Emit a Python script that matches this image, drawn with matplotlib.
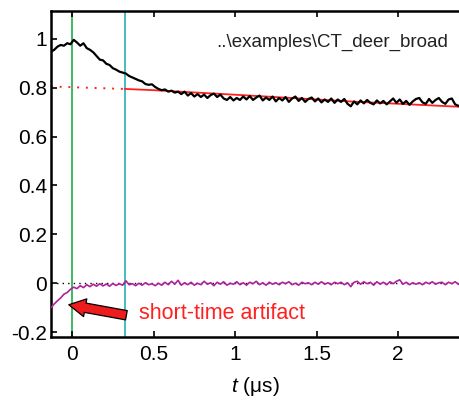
import numpy as np
import matplotlib
matplotlib.use("Agg")
import matplotlib.pyplot as plt

plt.rcParams['font.family'] = ['Liberation Sans', 'DejaVu Sans']
plt.rcParams['mathtext.fontset'] = 'custom'
plt.rcParams['mathtext.it'] = 'Liberation Sans:italic'
plt.rcParams['mathtext.rm'] = 'Liberation Sans'
plt.rcParams['axes.unicode_minus'] = False

# time grid of the traces [us]
t_start = -0.13
t_step = 0.02

# primary data (black)
signal = [0.947, 0.955, 0.968, 0.975, 0.972, 0.982, 0.978, 0.996, 0.985, 0.972,
          0.982, 0.962, 0.955, 0.945, 0.930, 0.915, 0.912, 0.898, 0.893, 0.880,
          0.874, 0.866, 0.862, 0.858, 0.848, 0.842, 0.836, 0.830, 0.826, 0.815,
          0.812, 0.814, 0.803, 0.795, 0.790, 0.793, 0.784, 0.788, 0.780, 0.784,
          0.774, 0.784, 0.768, 0.778, 0.764, 0.774, 0.762, 0.772, 0.758, 0.770,
          0.776, 0.762, 0.772, 0.756, 0.750, 0.762, 0.748, 0.758, 0.750, 0.764,
          0.752, 0.766, 0.750, 0.760, 0.768, 0.748, 0.760, 0.750, 0.764, 0.744,
          0.758, 0.748, 0.762, 0.742, 0.756, 0.764, 0.746, 0.758, 0.742, 0.754,
          0.760, 0.744, 0.756, 0.740, 0.752, 0.742, 0.756, 0.738, 0.752, 0.742,
          0.754, 0.734, 0.724, 0.744, 0.732, 0.748, 0.736, 0.750, 0.738, 0.732,
          0.748, 0.736, 0.746, 0.732, 0.744, 0.756, 0.738, 0.752, 0.734, 0.746,
          0.730, 0.744, 0.754, 0.758, 0.740, 0.734, 0.754, 0.738, 0.750, 0.758,
          0.742, 0.734, 0.752, 0.756, 0.732, 0.726]

# residual / short-time part (magenta)
resid = [-0.100, -0.085, -0.072, -0.060, -0.045, -0.038, -0.025, -0.016, -0.022, -0.010,
         -0.018, -0.006, -0.014, -0.004, -0.012, -0.002, -0.011, -0.003, -0.012, -0.001,
         -0.009, -0.002, -0.008, 0.010, -0.006, -0.002, -0.010, 0.000, -0.008, 0.002,
         -0.006, -0.002, -0.010, 0.000, -0.008, 0.004, -0.006, 0.008, -0.004, 0.012,
         -0.008, 0.002, -0.006, 0.004, -0.008, 0.000, -0.006, 0.008, -0.004, 0.002,
         -0.010, 0.004, -0.004, 0.006, -0.008, 0.000, -0.004, 0.006, -0.006, 0.002,
         -0.008, 0.004, -0.002, 0.008, -0.006, 0.002, -0.008, 0.004, -0.004, 0.002,
         -0.006, 0.004, -0.002, 0.006, -0.006, 0.000, -0.008, 0.004, -0.002, 0.002,
         -0.006, 0.004, -0.004, 0.006, -0.004, 0.002, -0.006, 0.004, -0.002, 0.004,
         -0.006, 0.002, -0.014, 0.004, 0.008, -0.004, 0.006, -0.002, 0.004, -0.008,
         0.006, -0.004, 0.004, -0.006, 0.006, -0.002, 0.008, 0.014, -0.004, 0.004,
         -0.006, 0.002, -0.004, 0.002, -0.006, 0.004, -0.002, 0.006, -0.004, 0.002,
         0.004, -0.006, 0.004, -0.002, 0.006, -0.004]

# background fit (red): extrapolated part and fitted part
bg_t_extra = [-0.13, 0.325]
bg_extra = [0.805, 0.795]
bg_t_fit = [0.325, 0.5, 1.09, 1.73, 2.38]
bg_fit = [0.795, 0.790, 0.768, 0.743, 0.722]

t_zero = 0.0
t_cut = 0.325
t = t_start + t_step * np.arange(len(signal))

fig = plt.figure(figsize=(4.6, 4.0), dpi=100)
ax = fig.add_axes([0.111, 0.1575, 0.889, 0.815])

ax.axvline(t_zero, color='#2fb35a', lw=1.3, zorder=1)
ax.axvline(t_cut, color='#36b8b8', lw=1.3, zorder=1)
ax.axhline(0, color='k', ls=(0, (1, 3)), lw=1.0, zorder=1)

ax.plot(bg_t_extra, bg_extra, color='#ff2020', ls=(0, (1, 3.5)), lw=1.4, zorder=2)
ax.plot(bg_t_fit, bg_fit, color='#ff2020', lw=1.3, zorder=2)
ax.plot(t, signal, color='k', lw=1.6, zorder=3)
ax.plot(t, resid, color='#b0209c', lw=1.2, zorder=3)

ax.text(0.97, 0.905, '..\\examples\\CT_deer_broad', transform=ax.transAxes,
        ha='right', va='center', fontsize=13.5, color='#222222')
ax.text(0.41, -0.123, 'short-time artifact', color='#ff2020', fontsize=15.5,
        ha='left', va='center')
ax.annotate('', xy=(-0.037, -0.086), xytext=(0.35, -0.133),
            arrowprops=dict(arrowstyle='simple,head_length=0.6,head_width=0.65,tail_width=0.34',
                            fc='#ee1c1c', ec='black', lw=0.9, mutation_scale=20))

ax.set_xlim(-0.129, 2.38)
ax.set_ylim(-0.22, 1.114)
ax.set_xticks([0, 0.5, 1, 1.5, 2])
ax.set_xticklabels(['0', '0.5', '1', '1.5', '2'])
ax.set_yticks([-0.2, 0, 0.2, 0.4, 0.6, 0.8, 1])
ax.set_yticklabels(['-0.2', '0', '0.2', '0.4', '0.6', '0.8', '1'])
ax.tick_params(direction='in', length=4, width=1.2, labelsize=15, top=True)
ax.tick_params(axis='x', pad=6)
ax.tick_params(axis='y', pad=3)
for side in ['left', 'bottom', 'top']:
    ax.spines[side].set_linewidth(1.8)
ax.spines['right'].set_visible(False)
ax.set_xlabel('$t$ (μs)', fontsize=15, labelpad=8)

fig.savefig('out.png', dpi=100)
